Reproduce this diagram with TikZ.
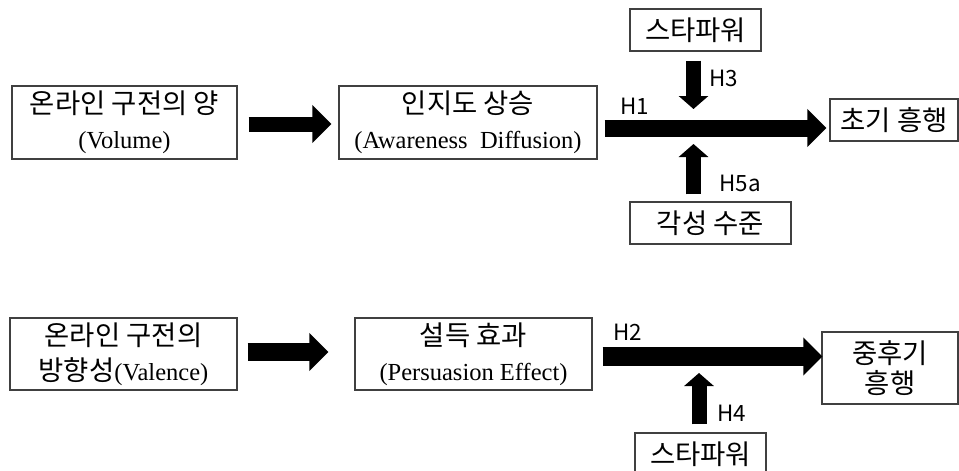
\documentclass[tikz,border=0pt]{standalone}
\usepackage{fontspec}
\setmainfont{Liberation Serif}
\newfontfamily\kr[Scale=1.12]{Noto Sans CJK KR}
\usetikzlibrary{arrows.meta}

\begin{document}
\begin{tikzpicture}[
    x=0.5pt, y=-0.5pt,
    box/.style={draw=black!75, line width=0.6pt, inner sep=0pt, align=center,
                font=\fontsize{12.25}{17.5}\selectfont},
    hyp/.style={font=\kr\fontsize{10}{12}\selectfont, inner sep=0pt},
    fat/.style={draw=black, line width=#1, -{Triangle[width=18.5pt,length=9.5pt]}},
    fat/.default=8pt,
    vfat/.style={draw=black, line width=7.5pt, -{Triangle[width=14.5pt,length=6.5pt]}},
]
\useasboundingbox (0,0) rectangle (959,471);

% upper path: volume
\node[box, minimum width=112.5pt, minimum height=36.5pt] (vol) at (124.5,122.5)
    {{\kr 온라인 구전의 양}\\(Volume)};
\node[box, minimum width=129pt, minimum height=36.5pt] (aw) at (468,122.5)
    {{\kr 인지도 상승}\\(Awareness\ \ Diffusion)};
\node[box, minimum width=64pt, minimum height=21pt] (cg) at (894,120) {\kr 초기 흥행};
\node[box, minimum width=65.5pt, minimum height=21pt] (s1) at (695.5,30) {\kr 스타파워};
\node[box, minimum width=80.5pt, minimum height=21pt] (gk) at (710.5,223) {\kr 각성 수준};

\coordinate (h3tip) at (693.5,109);
\coordinate (h5tip) at (693.5,144);

\draw[fat=7.5pt] ([shift={(11,1.5)}]vol.east) -- ([shift={(-7,1.5)}]aw.west);
\draw[fat=8.5pt] ([shift={(7,5.5)}]aw.east) -- ([shift={(-3,8)}]cg.west);
\draw[vfat] ([shift={(-2,9)}]s1.south) -- (h3tip);
\draw[vfat] ([shift={(-17,-7)}]gk.north) -- (h5tip);

\node[hyp] (h1) at (635,106) {H1};
\node[hyp] (h3) at (724,78) {H3};
\node[hyp] (h5a) at (740,183) {H5a};

% lower path: valence
\node[box, minimum width=113.5pt, minimum height=36pt] (va) at (123.5,354)
    {{\kr 온라인 구전의}\\{\kr 방향성}(Valence)};
\node[box, minimum width=118.5pt, minimum height=36pt] (ps) at (473.5,354)
    {{\kr 설득 효과}\\(Persuasion Effect)};
\node[box, minimum width=68pt, minimum height=36pt,
      font=\fontsize{12.25}{15}\selectfont] (jg) at (890,368) {\kr 중후기\\\kr 흥행};
\node[box, minimum width=65.5pt, minimum height=21pt] (s2) at (700.5,454) {\kr 스타파워};

\coordinate (h4tip) at (699,373);

\draw[fat=9pt] ([shift={(10,-2)}]va.east) -- ([shift={(-26,-2)}]ps.west);
\draw[fat=9.5pt] ([shift={(10,2.5)}]ps.east) -- ([shift={(1,-11.5)}]jg.west);
\draw[vfat] ([shift={(-1.5,-8)}]s2.north) -- (h4tip);

\node[hyp] (h2) at (628,332) {H2};
\node[hyp] (h4) at (732,413) {H4};
\end{tikzpicture}
\end{document}
